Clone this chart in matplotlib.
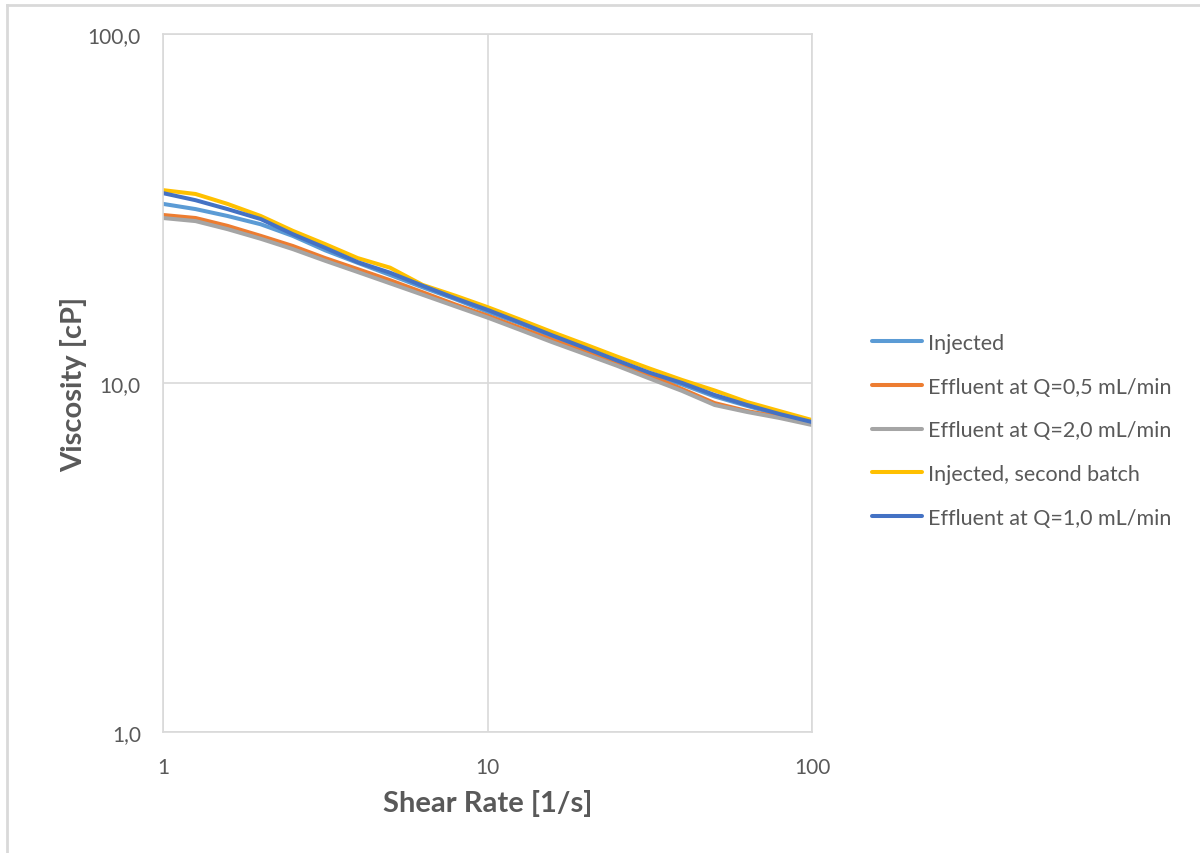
import matplotlib.pyplot as plt
from matplotlib.lines import Line2D
from matplotlib.ticker import FixedLocator, NullLocator

# Datos (shear rate en 1/s, viscosidad en cP)
shear_rate = [1.0, 1.26, 1.58, 2.0, 2.51, 3.16, 3.98, 5.01, 6.31, 7.94, 10.0,
              12.6, 15.8, 20.0, 25.1, 31.6, 39.8, 50.1, 63.1, 79.4, 100.0]

injected = [32.6, 31.5, 30.1, 28.5, 26.4, 24.0, 22.1, 20.4, 18.8, 17.4, 16.0,
            14.8, 13.6, 12.5, 11.5, 10.6, 9.9, 9.15, 8.6, 8.1, 7.7]
effluent_05 = [30.3, 29.7, 28.2, 26.4, 24.7, 22.8, 21.2, 19.7, 18.2, 16.8, 15.6,
               14.4, 13.3, 12.3, 11.3, 10.5, 9.61, 8.76, 8.31, 7.99, 7.63]
effluent_20 = [29.7, 29.1, 27.6, 25.9, 24.2, 22.4, 20.8, 19.3, 17.9, 16.6, 15.4,
               14.2, 13.1, 12.1, 11.2, 10.3, 9.49, 8.65, 8.26, 7.94, 7.58]
injected_2 = [35.7, 34.8, 32.6, 30.1, 27.3, 25.0, 22.8, 21.4, 19.1, 17.8, 16.5,
              15.2, 14.0, 12.9, 11.9, 11.0, 10.2, 9.52, 8.82, 8.31, 7.83]
effluent_10 = [35.0, 33.4, 31.5, 29.5, 26.7, 24.4, 22.2, 20.7, 19.0, 17.5, 16.2,
               14.9, 13.7, 12.6, 11.6, 10.7, 10.0, 9.24, 8.65, 8.15, 7.73]

series = [
    ("Injected", injected, "#5B9BD5"),
    ("Effluent at Q=0,5 mL/min", effluent_05, "#ED7D31"),
    ("Effluent at Q=2,0 mL/min", effluent_20, "#A5A5A5"),
    ("Injected, second batch", injected_2, "#FFC000"),
    ("Effluent at Q=1,0 mL/min", effluent_10, "#4472C4"),
]

plt.rcParams['font.family'] = ['Lato', 'DejaVu Sans']
texto = "#595959"
grilla = "#D9D9D9"

fig = plt.figure(figsize=(12, 8.54), dpi=100)
ax = fig.add_axes([163 / 1200, 1 - 733 / 854, 649 / 1200, 698 / 854])

for nombre, valores, color in series:
    ax.plot(shear_rate, valores, color=color, lw=2.9, label=nombre,
            solid_joinstyle="round", solid_capstyle="round")

ax.set_xscale("log")
ax.set_yscale("log")
ax.set_xlim(1, 100)
ax.set_ylim(1, 100)

ax.xaxis.set_major_locator(FixedLocator([1, 10, 100]))
ax.yaxis.set_major_locator(FixedLocator([1, 10, 100]))
ax.xaxis.set_minor_locator(NullLocator())
ax.yaxis.set_minor_locator(NullLocator())
ax.set_xticklabels(["1", "10", "100"])
ax.set_yticklabels(["1,0", "10,0", "100,0"])
ax.tick_params(axis="both", length=0, labelsize=15, labelcolor=texto)
ax.tick_params(axis="x", pad=18)
ax.tick_params(axis="y", pad=16)

ax.grid(True, color=grilla, lw=1.2)
ax.set_axisbelow(True)
for s in ax.spines.values():
    s.set_color(grilla)
    s.set_linewidth(1.2)

ax.set_xlabel("Shear Rate [1/s]", fontsize=21, fontweight="bold", color=texto, labelpad=9)
ax.set_ylabel("Viscosity [cP]", fontsize=21, fontweight="bold", color=texto)
ax.yaxis.set_label_coords(-0.117, 0.5)

fig.legend(loc="center left", bbox_to_anchor=(0.727, 0.495), frameon=False,
           fontsize=15.5, labelcolor=texto, handlelength=2.3, handletextpad=0.3,
           labelspacing=1.1, borderaxespad=0, borderpad=0)

# Borde del area del grafico (solo se ve arriba e izquierda)
fig.add_artist(Line2D([7 / 1200, 7 / 1200], [0, 1 - 6 / 854], color=grilla, lw=2,
                      transform=fig.transFigure))
fig.add_artist(Line2D([7 / 1200, 1], [1 - 6 / 854, 1 - 6 / 854], color=grilla, lw=2,
                      transform=fig.transFigure))

fig.savefig("out.png", dpi=100)
